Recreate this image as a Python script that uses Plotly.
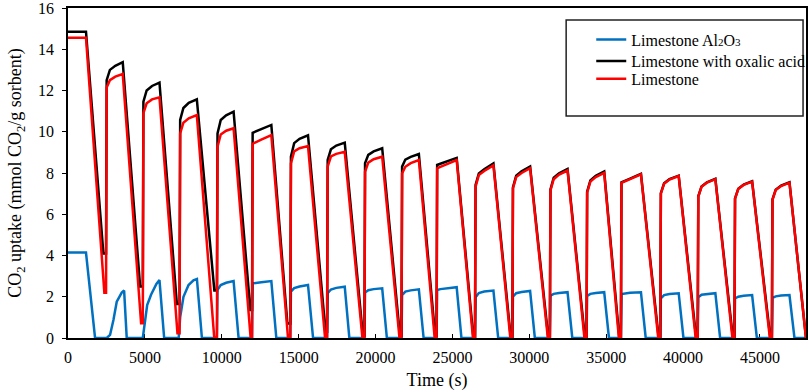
import plotly.graph_objects as go

# ---------------- data ----------------
# cycle timing (s), shared by the three sorbents, cycles 1..19
rise_t = [2475, 4865, 7255, 9685, 11970, 14460, 16850, 19280, 21690, 23970,
          26470, 28900, 31340, 33725, 35960, 38520, 40955, 43345, 45780]
peak_t = [3560, 5950, 8380, 10770, 13225, 15610, 18000, 20435, 22820, 25280,
          27670, 30055, 32490, 34875, 37265, 39720, 42105, 44495, 46925]
# sample offsets after each rise where jump / knee / late values were read
rise_offsets = [40, 250, 600]

# initial plateau (cycle 0)
plateau_end_t = 1170
red_plateau = 14.56
black_plateau = 14.85
blue_plateau = 4.14

# Limestone (red)
red_jump = [12.15, 10.90, 9.92, 9.28, 9.42, 8.47, 8.31, 8.06, 7.98, 8.23,
            7.34, 7.25, 7.15, 7.05, 7.52, 7.00, 6.85, 6.75, 6.70]
red_knee = [12.50, 11.38, 10.44, 9.87, 9.50, 9.05, 8.80, 8.50, 8.30, 8.30,
            7.90, 7.80, 7.70, 7.58, 7.60, 7.48, 7.33, 7.22, 7.17]
red_late = [12.67, 11.57, 10.65, 10.05, 9.62, 9.20, 8.93, 8.67, 8.48, 8.41,
            8.10, 8.00, 7.92, 7.80, 7.70, 7.68, 7.53, 7.42, 7.37]
red_peak = [12.80, 11.67, 10.81, 10.17, 9.84, 9.31, 9.03, 8.79, 8.63, 8.63,
            8.37, 8.23, 8.12, 8.00, 7.93, 7.85, 7.70, 7.58, 7.53]
red_low_t = [2365, 4755, 7120, 9510, 11880, 14310, 16720, 19150, 21560, 23850,
             26340, 28770, 31210, 33590, 35830, 38390, 40825, 43215, 45650, 48000]
red_low_v = [2.20, 0.71, 0.23, 0.03, 0, 0, 0, 0, 0, 0,
             0, 0, 0, 0, 0, 0, 0, 0, 0, 0]

# Limestone with oxalic acid (black)
black_jump = [12.50, 11.46, 10.57, 9.92, 9.95, 8.79, 8.63, 8.47, 8.31, 8.39,
              7.42, 7.30, 7.20, 7.10, 7.55, 7.02, 6.87, 6.77, 6.72]
black_knee = [13.00, 12.00, 11.15, 10.57, 10.03, 9.45, 9.15, 8.88, 8.65, 8.45,
              7.98, 7.87, 7.77, 7.64, 7.63, 7.50, 7.35, 7.24, 7.19]
black_late = [13.20, 12.22, 11.40, 10.80, 10.13, 9.66, 9.33, 9.05, 8.78, 8.54,
              8.18, 8.08, 7.99, 7.86, 7.73, 7.70, 7.55, 7.44, 7.39]
black_peak = [13.37, 12.38, 11.57, 10.97, 10.33, 9.83, 9.47, 9.20, 8.92, 8.73,
              8.47, 8.31, 8.20, 8.07, 7.96, 7.87, 7.72, 7.60, 7.55]
black_low_t = [2300, 4690, 7080, 9520, 11860, 14270, 16750, 19180, 21590, 23880,
               26370, 28800, 31240, 33620, 35860, 38420, 40855, 43245, 45680, 48000]
black_low_v = [4.10, 2.50, 1.65, 2.30, 1.36, 0.70, 0.30, 0.10, 0.10, 0.10,
               0, 0, 0, 0, 0, 0, 0, 0, 0, 0]

# Limestone Al2O3 (blue)
blue_plateau_drop_t = 1760
blue_early_t = [2520, 2735, 2955, 3170, 3495, 3650, 3820,
                4865, 5000, 5150, 5400, 5750, 5950, 6255,
                7200, 7300, 7510, 7840, 8160, 8385, 8710]
blue_early_v = [0, 0.15, 0.87, 1.76, 2.20, 2.30, 0,
                0, 0.90, 1.60, 2.10, 2.62, 2.81, 0,
                0, 1.03, 2.00, 2.57, 2.80, 2.86, 0]
# cycles 4..19
blue_jump = [2.33, 2.65, 2.25, 2.17, 2.20, 2.08, 2.33, 1.97, 2.00, 2.05,
             2.04, 2.13, 1.92, 1.97, 1.92, 1.95]
blue_knee = [2.57, 2.68, 2.42, 2.35, 2.32, 2.25, 2.37, 2.18, 2.17, 2.14,
             2.14, 2.16, 2.08, 2.10, 2.00, 2.02]
blue_late = [2.68, 2.70, 2.50, 2.43, 2.37, 2.31, 2.41, 2.25, 2.23, 2.18,
             2.18, 2.19, 2.13, 2.14, 2.05, 2.06]
blue_peak = [2.76, 2.76, 2.57, 2.49, 2.41, 2.36, 2.46, 2.30, 2.28, 2.22,
             2.22, 2.22, 2.17, 2.17, 2.08, 2.08]
blue_end_t = [11095, 13550, 15940, 18300, 20740, 23130, 25590, 27980, 30365, 32800,
              35185, 37575, 40030, 42415, 44805, 47250]

x_max = 48000
x_ticks = [0, 5000, 10000, 15000, 20000, 25000, 30000, 35000, 40000, 45000]
y_ticks = [0, 2, 4, 6, 8, 10, 12, 14, 16]

names = ["Limestone Al<span style='font-size:11px'>2</span>O<span style='font-size:11px'>3</span>",
         "Limestone with oxalic acid",
         "Limestone"]
colors = ["#0070C0", "#000000", "#FF0000"]
legend_ids = ["legend", "legend2", "legend3"]


def build_cycles(plateau, jump, knee, late, peak, low_t, low_v):
    xs = [0, plateau_end_t]
    ys = [plateau, plateau]
    for k in range(len(rise_t)):
        xs += [low_t[k], rise_t[k]]
        ys += [low_v[k], low_v[k]]
        vals = [jump[k], knee[k], late[k]]
        for off, v in zip(rise_offsets, vals):
            xs.append(rise_t[k] + off)
            ys.append(v)
        xs.append(peak_t[k])
        ys.append(peak[k])
    xs.append(low_t[-1])
    ys.append(low_v[-1])
    return xs, ys


red_x, red_y = build_cycles(red_plateau, red_jump, red_knee, red_late, red_peak,
                            red_low_t, red_low_v)
black_x, black_y = build_cycles(black_plateau, black_jump, black_knee, black_late,
                                black_peak, black_low_t, black_low_v)

blue_x = [0, plateau_end_t, blue_plateau_drop_t] + blue_early_t
blue_y = [blue_plateau, blue_plateau, 0] + blue_early_v
for j in range(len(blue_jump)):
    k = j + 3
    blue_x.append(rise_t[k])
    blue_y.append(0)
    for off, v in zip(rise_offsets, [blue_jump[j], blue_knee[j], blue_late[j]]):
        blue_x.append(rise_t[k] + off)
        blue_y.append(v)
    blue_x += [peak_t[k], blue_end_t[j]]
    blue_y += [blue_peak[j], 0]
blue_x.append(x_max)
blue_y.append(0)

series = [(blue_x, blue_y), (black_x, black_y), (red_x, red_y)]

# ---------------- figure ----------------
FONT = "Liberation Serif"
fig = go.Figure()
for (xs, ys), name, col, lg in zip(series, names, colors, legend_ids):
    fig.add_trace(go.Scatter(x=xs, y=ys, mode="lines", name=name, legend=lg,
                             line=dict(color=col, width=2.5)))

legend_style = dict(x=0.709, xanchor="left", yanchor="middle",
                    bgcolor="rgba(0,0,0,0)", borderwidth=0,
                    font=dict(family=FONT, size=16, color="black"))

fig.update_layout(
    width=809, height=392,
    margin=dict(l=68, r=3, t=8, b=54, autoexpand=False),
    paper_bgcolor="white", plot_bgcolor="white",
    font=dict(family=FONT, size=16, color="black"),
    showlegend=True,
    legend=dict(y=0.904, **legend_style),
    legend2=dict(y=0.839, **legend_style),
    legend3=dict(y=0.785, **legend_style),
    shapes=[dict(type="rect", xref="paper", yref="paper",
                 x0=0.675, x1=0.996, y0=0.673, y1=0.964,
                 line=dict(color="#222222", width=1.5), fillcolor="rgba(0,0,0,0)")],
)
fig.update_xaxes(
    range=[0, x_max], tickvals=x_ticks, ticktext=[str(v) for v in x_ticks],
    ticks="inside", ticklen=4, tickwidth=1, tickcolor="black",
    showline=True, linecolor="black", linewidth=1.5, mirror=True,
    showgrid=False, zeroline=False, layer="below traces", automargin=False,
    ticklabelstandoff=4, ticklabeloverflow="allow",
    tickfont=dict(family=FONT, size=16, color="black"),
    title=dict(text="Time (s)", font=dict(family=FONT, size=18, color="black"),
               standoff=8),
)
fig.update_yaxes(
    range=[0, 16], tickvals=y_ticks, ticktext=[str(v) for v in y_ticks],
    ticks="outside", ticklen=4, tickwidth=1, tickcolor="black",
    showline=True, linecolor="black", linewidth=1.5, mirror=True,
    showgrid=False, zeroline=False, layer="below traces", automargin=False,
    ticklabelstandoff=5, ticklabeloverflow="allow",
    tickfont=dict(family=FONT, size=16, color="black"),
    title=dict(text="CO<sub>2</sub> uptake (mmol CO<sub>2</sub>/g sorbent)",
               font=dict(family=FONT, size=18, color="black"), standoff=12),
)

fig.write_html("out.html", config={"displayModeBar": False},
               post_script="document.body.style.margin='0';document.body.style.padding='0';")
